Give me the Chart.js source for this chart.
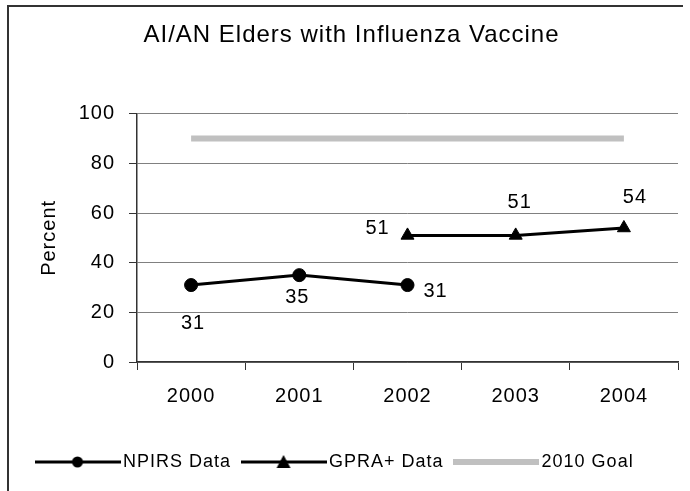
<!DOCTYPE html>
<html>
<head>
<meta charset="utf-8">
<script src="https://cdn.jsdelivr.net/npm/chart.js@4.4.1/dist/chart.umd.min.js"></script>
<style>
    html, body { margin: 0; padding: 0; background: #fff; }
    #wrap { position: relative; width: 690px; height: 491px; overflow: hidden; }
    #frame { position: absolute; left: 7px; top: 5px; width: 674px; height: 500px;
             border-top: 2px solid #333; border-left: 2px solid #333; pointer-events: none; }
</style>
</head>
<body>
<div id="wrap">
    <canvas id="vaccineChart" width="690" height="491"></canvas>
    <div id="frame"></div>
</div>
<script>
    const years = ['2000', '2001', '2002', '2003', '2004'];
    const npirsValues = [31, 35, 31, null, null];
    const gpraValues = [null, null, 51, 51, 54];
    const goalValues = [90, 90, 90, 90, 90];

    // where each value label sits, relative to its point (dx, dy)
    const labelOffsets = [
        [[2, 38], [-2, 22], [28, 6], null, null],
        [null, null, [-30, -7], [4, -33], [11, -30]],
        null
    ];

    const FONT = "'Liberation Sans', Arial, sans-serif";
    Chart.defaults.font.family = FONT;
    Chart.defaults.color = '#000';

    // little legend samples: line with the marker in the middle
    function legendIcon(kind) {
        const c = document.createElement('canvas');
        c.width = 86;
        c.height = 16;
        const g = c.getContext('2d');
        g.beginPath();
        g.moveTo(0, 8);
        g.lineTo(86, 8);
        if (kind === 'goal') {
            g.strokeStyle = '#c0c0c0';
            g.lineWidth = 6;
        } else {
            g.strokeStyle = '#000';
            g.lineWidth = 3;
        }
        g.stroke();
        g.fillStyle = '#000';
        if (kind === 'circle') {
            g.beginPath();
            g.arc(43, 8, 5.5, 0, Math.PI * 2);
            g.fill();
        } else if (kind === 'triangle') {
            g.beginPath();
            g.moveTo(43, 1);
            g.lineTo(50, 14);
            g.lineTo(36, 14);
            g.closePath();
            g.fill();
        }
        return c;
    }
    const legendIcons = [legendIcon('circle'), legendIcon('triangle'), legendIcon('goal')];

    const spacing = {
        id: 'spacing',
        beforeLayout(chart) { chart.ctx.letterSpacing = '1px'; },
        beforeDraw(chart) { chart.ctx.letterSpacing = '1px'; }
    };

    const valueLabels = {
        id: 'valueLabels',
        afterDatasetsDraw(chart) {
            const ctx = chart.ctx;
            ctx.save();
            ctx.font = '20px ' + FONT;
            ctx.fillStyle = '#000';
            ctx.textAlign = 'center';
            ctx.textBaseline = 'middle';
            chart.data.datasets.forEach((ds, di) => {
                const offsets = labelOffsets[di];
                if (!offsets) {
                    return;
                }
                const meta = chart.getDatasetMeta(di);
                ds.data.forEach((v, i) => {
                    if (v === null || !offsets[i]) {
                        return;
                    }
                    const pt = meta.data[i];
                    ctx.fillText(String(v), pt.x + offsets[i][0], pt.y + offsets[i][1]);
                });
            });
            ctx.restore();
        }
    };

    new Chart(document.getElementById('vaccineChart'), {
        type: 'line',
        data: {
            labels: years,
            datasets: [
                {
                    label: 'NPIRS Data',
                    data: npirsValues,
                    borderColor: '#000',
                    borderWidth: 3,
                    pointStyle: 'circle',
                    pointRadius: 6.5,
                    pointBackgroundColor: '#000',
                    pointBorderColor: '#000',
                    pointBorderWidth: 1,
                    tension: 0
                },
                {
                    label: 'GPRA+ Data',
                    data: gpraValues,
                    borderColor: '#000',
                    borderWidth: 3,
                    pointStyle: 'triangle',
                    pointRadius: 7.5,
                    pointBackgroundColor: '#000',
                    pointBorderColor: '#000',
                    pointBorderWidth: 1,
                    tension: 0
                },
                {
                    label: '2010 Goal',
                    data: goalValues,
                    borderColor: '#c0c0c0',
                    borderWidth: 6,
                    pointRadius: 0,
                    tension: 0
                }
            ]
        },
        options: {
            responsive: false,
            animation: false,
            layout: {
                padding: {left: 25, right: 12, top: 6, bottom: 10}
            },
            scales: {
                x: {
                    offset: true,
                    afterFit: scale => { scale.height = 75; },
                    grid: {
                        offset: true,
                        drawOnChartArea: true,
                        color: ctx => ctx.index === years.length ? '#808080' : 'rgba(0,0,0,0)',
                        tickColor: '#333',
                        tickLength: 8,
                        lineWidth: 1
                    },
                    border: {color: '#333', width: 1.5},
                    ticks: {
                        padding: 14,
                        color: '#000',
                        font: {size: 20}
                    }
                },
                y: {
                    min: 0,
                    max: 100,
                    afterFit: scale => { scale.width = 112; },
                    grid: {
                        color: '#808080',
                        tickColor: '#333',
                        tickLength: 8,
                        lineWidth: 1
                    },
                    border: {color: '#333', width: 1.5},
                    ticks: {
                        stepSize: 20,
                        padding: 14,
                        color: '#000',
                        font: {size: 20}
                    },
                    title: {
                        display: true,
                        text: 'Percent',
                        color: '#000',
                        font: {size: 20},
                        padding: {top: 12, bottom: 0}
                    }
                }
            },
            plugins: {
                title: {
                    display: true,
                    text: 'AI/AN Elders with Influenza Vaccine',
                    color: '#000',
                    font: {size: 24, weight: 'normal'},
                    padding: {top: 15, bottom: 64}
                },
                legend: {
                    position: 'bottom',
                    align: 'start',
                    labels: {
                        usePointStyle: true,
                        pointStyleWidth: 73,
                        padding: 16,
                        color: '#000',
                        font: {size: 18},
                        generateLabels: chart => {
                            const items = Chart.defaults.plugins.legend.labels.generateLabels(chart);
                            items.forEach((item, i) => {
                                item.pointStyle = legendIcons[i];
                            });
                            return items;
                        }
                    }
                },
                tooltip: {enabled: false}
            }
        },
        plugins: [spacing, valueLabels]
    });
</script>
</body>
</html>
